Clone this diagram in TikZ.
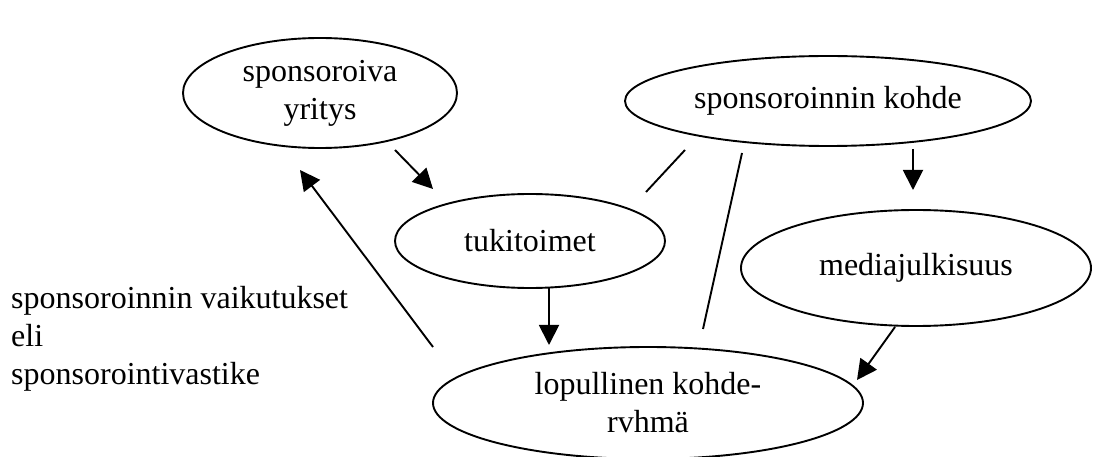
\documentclass[tikz,border=0pt]{standalone}
\usepackage{fontspec}
\setmainfont{Liberation Serif}
\usetikzlibrary{arrows.meta,shapes.geometric}
\begin{document}
\begin{tikzpicture}[x=1pt,y=-1pt,
  txt/.style={font=\fontsize{32}{38}\selectfont, align=center, inner sep=0pt},
  oval/.style={txt, draw, line width=1.9pt, ellipse},
  conn/.style={line width=1.9pt},
  arr/.style={conn, -{Triangle[length=20pt,width=20pt]}}]
\useasboundingbox (0,0) rectangle (1096,457);
\node[oval, minimum width=274pt, minimum height=110pt] (spy) at (320,93) {sponsoroiva\\yritys};
\node[oval, minimum width=406pt, minimum height=90pt] (kohde) at (828,101) {sponsoroinnin kohde};
\node[oval, minimum width=270pt, minimum height=94pt] (tuki) at (530,241) {tukitoimet};
\node[oval, minimum width=350pt, minimum height=116pt] (media) at (916,268) {mediajulkisuus};
\node[oval, minimum width=430pt, minimum height=112pt] (lop) at (648,403) {lopullinen kohde-\\rvhmä};
\node[txt, align=left, anchor=north west] (vaik) at (11,286) {sponsoroinnin vaikutukset\\eli\\sponsorointivastike};
\coordinate (a1s) at (395,150); \coordinate (a1e) at (433,189);
\coordinate (a2s) at (433,347); \coordinate (a2e) at (300,170);
\coordinate (a3s) at (549,288); \coordinate (a3e) at (549,345);
\coordinate (a4s) at (913,149); \coordinate (a4e) at (913,190);
\coordinate (a5s) at (895,327); \coordinate (a5e) at (857,380);
\coordinate (l1s) at (685,150); \coordinate (l1e) at (646,192);
\coordinate (l2s) at (742,153); \coordinate (l2e) at (703,329);
\draw[arr] (a1s) -- (a1e);
\draw[arr] (a2s) -- (a2e);
\draw[arr] (a3s) -- (a3e);
\draw[arr] (a4s) -- (a4e);
\draw[arr] (a5s) -- (a5e);
\draw[conn] (l1s) -- (l1e);
\draw[conn] (l2s) -- (l2e);
\end{tikzpicture}
\end{document}
